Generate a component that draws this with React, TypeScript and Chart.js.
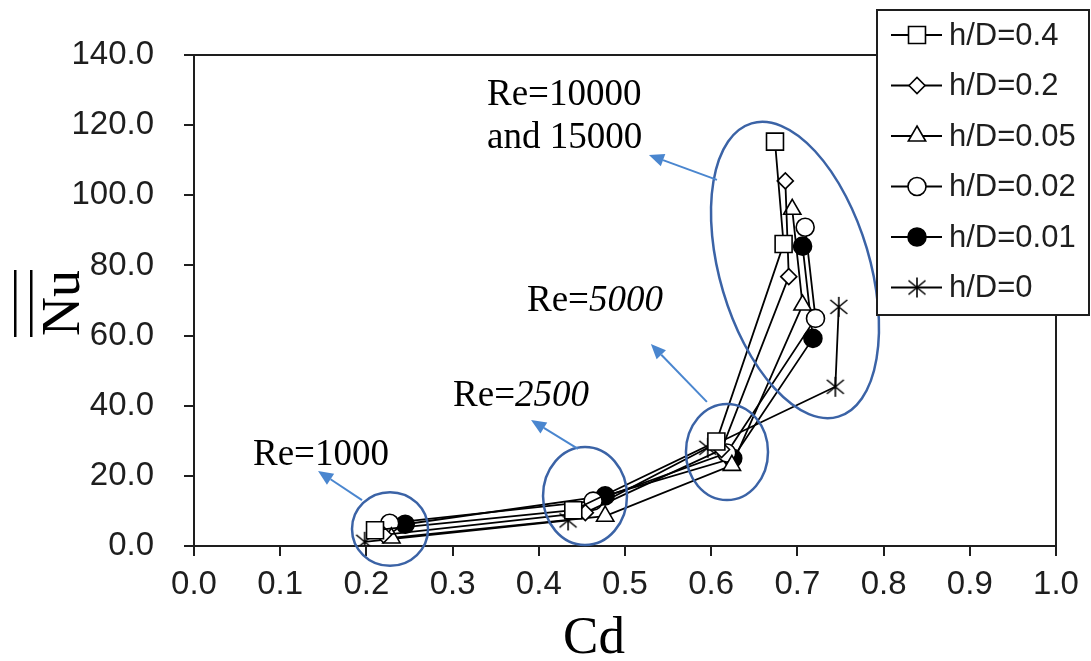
import { useEffect, useRef } from 'react';
import { Chart, registerables } from 'chart.js';
import { drawPoint } from 'chart.js/helpers';

Chart.register(...registerables);

// Each series: Re = 1000, 2500, 5000, 10000, 15000
const seriesLabels = ['h/D=0.4', 'h/D=0.2', 'h/D=0.05', 'h/D=0.02', 'h/D=0.01', 'h/D=0'];

const cdH04 = [0.21, 0.44, 0.606, 0.684, 0.674];
const nuH04 = [4.5, 10.2, 29.8, 86.1, 115.3];

const cdH02 = [0.22, 0.454, 0.612, 0.69, 0.686];
const nuH02 = [3.2, 9.5, 27.5, 76.8, 104.1];

const cdH005 = [0.229, 0.477, 0.624, 0.706, 0.694];
const nuH005 = [2.3, 8.5, 23.0, 68.7, 96.0];

const cdH002 = [0.227, 0.463, 0.618, 0.721, 0.709];
const nuH002 = [6.5, 12.8, 26.5, 64.9, 90.9];

const cdH001 = [0.245, 0.477, 0.625, 0.718, 0.706];
const nuH001 = [6.2, 14.3, 25.0, 59.2, 85.5];

const cdH0 = [0.198, 0.434, 0.596, 0.744, 0.748];
const nuH0 = [1.2, 7.3, 28.0, 45.4, 68.2];

const xTickValues = [0, 0.1, 0.2, 0.3, 0.4, 0.5, 0.6, 0.7, 0.8, 0.9, 1.0];
const yTickValues = [0, 20, 40, 60, 80, 100, 120, 140];

// Callouts in data units (Cd, Nu)
const groupEllipses = [
  { cd: 0.2274, nu: 4.85, rCd: 0.0441, rNu: 10.5, tilt: 0 },
  { cd: 0.4536, nu: 14.26, rCd: 0.0487, rNu: 13.97, tilt: 0 },
  { cd: 0.6183, nu: 26.8, rCd: 0.0476, rNu: 13.7, tilt: 0 },
  { cd: 0.6972, nu: 78.7, rCd: 0.087, rNu: 43.6, tilt: -16.5 },
];
const groupArrows = [
  { fromCd: 0.1949, fromNu: 13.1, toCd: 0.1439, toNu: 21.4 },
  { fromCd: 0.4455, fromNu: 27.7, toCd: 0.391, toNu: 35.9 },
  { fromCd: 0.595, fromNu: 41.1, toCd: 0.53, toNu: 57.6 },
  { fromCd: 0.6067, fromNu: 104.4, toCd: 0.5278, toNu: 111.5 },
];
const groupNotes = [
  { cd: 0.0684, nu: 23.1, parts: [{ t: 'Re=1000', i: false }] },
  { cd: 0.3005, nu: 39.9, parts: [{ t: 'Re=', i: false }, { t: '2500', i: true }] },
  { cd: 0.3863, nu: 67.0, parts: [{ t: 'Re=', i: false }, { t: '5000', i: true }] },
  { cd: 0.3399, nu: 125.7, parts: [{ t: 'Re=10000', i: false }] },
  { cd: 0.3399, nu: 113.5, parts: [{ t: 'and 15000', i: false }] },
];

const SANS = '"Liberation Sans", Arial, sans-serif';
const SERIF = '"Liberation Serif", "Times New Roman", serif';
const INK = '#1e1e1e';

function makeAsterisk(): HTMLCanvasElement {
  const c = document.createElement('canvas');
  c.width = 22;
  c.height = 22;
  const g = c.getContext('2d')!;
  g.strokeStyle = '#000';
  g.lineWidth = 1.6;
  g.beginPath();
  g.moveTo(11, 1);
  g.lineTo(11, 21);
  g.moveTo(2.5, 4);
  g.lineTo(19.5, 18);
  g.moveTo(19.5, 4);
  g.lineTo(2.5, 18);
  g.stroke();
  return c;
}

function pairs(xs: number[], ys: number[]) {
  return xs.map((x, i) => ({ x, y: ys[i] }));
}

const framePlugin = {
  id: 'frame',
  beforeDatasetsDraw(chart: any) {
    const { ctx, chartArea: a } = chart;
    ctx.save();
    ctx.strokeStyle = INK;
    ctx.lineWidth = 2;
    ctx.beginPath();
    ctx.moveTo(a.left, a.top);
    ctx.lineTo(a.right, a.top);
    ctx.lineTo(a.right, a.bottom);
    ctx.stroke();
    ctx.restore();
  },
};

const calloutPlugin = {
  id: 'callouts',
  afterDatasetsDraw(chart: any) {
    const { ctx } = chart;
    const xs = chart.scales.x;
    const ys = chart.scales.y;
    const px = (v: number) => xs.getPixelForValue(v);
    const py = (v: number) => ys.getPixelForValue(v);
    const sx = xs.getPixelForValue(1) - xs.getPixelForValue(0);
    const sy = ys.getPixelForValue(0) - ys.getPixelForValue(1);

    ctx.save();
    ctx.strokeStyle = '#3b63a6';
    ctx.lineWidth = 2.5;
    for (const e of groupEllipses) {
      ctx.beginPath();
      ctx.ellipse(px(e.cd), py(e.nu), e.rCd * sx, e.rNu * sy, (e.tilt * Math.PI) / 180, 0, Math.PI * 2);
      ctx.stroke();
    }

    ctx.strokeStyle = '#4a86cf';
    ctx.fillStyle = '#4a86cf';
    ctx.lineWidth = 2;
    for (const a of groupArrows) {
      const x0 = px(a.fromCd), y0 = py(a.fromNu);
      const x1 = px(a.toCd), y1 = py(a.toNu);
      const ang = Math.atan2(y1 - y0, x1 - x0);
      const len = 15, half = 6.5;
      const bx = x1 - Math.cos(ang) * len, by = y1 - Math.sin(ang) * len;
      ctx.beginPath();
      ctx.moveTo(x0, y0);
      ctx.lineTo(bx, by);
      ctx.stroke();
      ctx.beginPath();
      ctx.moveTo(x1, y1);
      ctx.lineTo(bx + Math.sin(ang) * half, by - Math.cos(ang) * half);
      ctx.lineTo(bx - Math.sin(ang) * half, by + Math.cos(ang) * half);
      ctx.closePath();
      ctx.fill();
    }

    ctx.fillStyle = '#000';
    ctx.textBaseline = 'alphabetic';
    ctx.textAlign = 'left';
    for (const n of groupNotes) {
      let x = px(n.cd);
      const y = py(n.nu);
      for (const p of n.parts) {
        ctx.font = `${p.i ? 'italic ' : ''}37px ${SERIF}`;
        ctx.fillText(p.t, x, y);
        x += ctx.measureText(p.t).width;
      }
    }
    ctx.restore();
  },
  afterDraw(chart: any) {
    const { ctx, chartArea: a } = chart;
    ctx.save();

    // axis titles
    ctx.fillStyle = '#000';
    ctx.font = `53px ${SERIF}`;
    ctx.textAlign = 'center';
    ctx.textBaseline = 'alphabetic';
    ctx.fillText('Cd', a.left + 400, 653);

    ctx.translate(79, 303);
    ctx.rotate(-Math.PI / 2);
    ctx.font = `54px ${SERIF}`;
    ctx.fillText('Nu', 0, 0);
    ctx.fillRect(-34, -65, 67, 2.5);
    ctx.fillRect(-34, -49, 67, 2.5);
    ctx.setTransform(1, 0, 0, 1, 0, 0);

    // legend box
    const bx = 877, by = 10, bw = 212, bh = 305;
    ctx.fillStyle = '#fff';
    ctx.fillRect(bx, by, bw, bh);
    ctx.strokeStyle = INK;
    ctx.lineWidth = 2;
    ctx.strokeRect(bx, by, bw, bh);

    chart.data.datasets.forEach((ds: any, i: number) => {
      const y = 35 + i * 50.5;
      ctx.strokeStyle = '#000';
      ctx.lineWidth = 1.8;
      ctx.beginPath();
      ctx.moveTo(891, y);
      ctx.lineTo(942, y);
      ctx.stroke();
      ctx.fillStyle = ds.pointBackgroundColor;
      ctx.strokeStyle = ds.pointBorderColor;
      ctx.lineWidth = ds.pointBorderWidth;
      drawPoint(ctx, { pointStyle: ds.pointStyle, radius: ds.pointRadius, rotation: 0, borderWidth: ds.pointBorderWidth } as any, 917, y);
      ctx.fillStyle = INK;
      ctx.font = `31px ${SANS}`;
      ctx.textAlign = 'left';
      ctx.textBaseline = 'middle';
      ctx.fillText(ds.label, 949, y + 1);
    });
    ctx.restore();
  },
};

export default function App() {
  const canvasRef = useRef<HTMLCanvasElement>(null);

  useEffect(() => {
    const star = makeAsterisk();
    const base = {
      showLine: true,
      borderColor: '#000',
      borderWidth: 1.8,
      pointBorderColor: '#000',
      pointBorderWidth: 1.6,
      pointBackgroundColor: '#fff',
    };
    const chart = new Chart(canvasRef.current!, {
      type: 'scatter',
      data: {
        datasets: [
          { ...base, label: seriesLabels[0], data: pairs(cdH04, nuH04), pointStyle: 'rect', pointRadius: 12 },
          { ...base, label: seriesLabels[1], data: pairs(cdH02, nuH02), pointStyle: 'rectRot', pointRadius: 8 },
          { ...base, label: seriesLabels[2], data: pairs(cdH005, nuH005), pointStyle: 'triangle', pointRadius: 10 },
          { ...base, label: seriesLabels[3], data: pairs(cdH002, nuH002), pointStyle: 'circle', pointRadius: 9 },
          { ...base, label: seriesLabels[4], data: pairs(cdH001, nuH001), pointStyle: 'circle', pointRadius: 9, pointBackgroundColor: '#000' },
          { ...base, label: seriesLabels[5], data: pairs(cdH0, nuH0), pointStyle: star as any, pointRadius: 10 },
        ] as any,
      },
      options: {
        responsive: false,
        animation: false,
        events: [],
        layout: { padding: { top: 55, right: 35, left: 0, bottom: 0 } },
        plugins: { legend: { display: false }, tooltip: { enabled: false }, title: { display: false } },
        scales: {
          x: {
            type: 'linear',
            min: 0,
            max: 1,
            afterBuildTicks: (s: any) => {
              s.ticks = xTickValues.map((v) => ({ value: v }));
            },
            afterFit: (s: any) => {
              s.height = 115;
            },
            ticks: {
              callback: (v: any) => Number(v).toFixed(1),
              font: { family: SANS, size: 33 },
              color: INK,
              padding: 9,
              maxRotation: 0,
              autoSkip: false,
            },
            grid: { drawOnChartArea: false, drawTicks: true, tickLength: 10, color: INK, lineWidth: 2 },
            border: { display: true, color: INK, width: 2 },
          },
          y: {
            type: 'linear',
            min: 0,
            max: 140,
            afterBuildTicks: (s: any) => {
              s.ticks = yTickValues.map((v) => ({ value: v }));
            },
            afterFit: (s: any) => {
              s.width = 194;
            },
            ticks: {
              callback: (v: any) => Number(v).toFixed(1),
              font: { family: SANS, size: 33 },
              color: INK,
              padding: 30,
              autoSkip: false,
            },
            grid: { drawOnChartArea: false, drawTicks: true, tickLength: 10, color: INK, lineWidth: 2 },
            border: { display: true, color: INK, width: 2 },
          },
        },
      },
      plugins: [framePlugin, calloutPlugin],
    });
    return () => chart.destroy();
  }, []);

  return (
    <div style={{ position: 'absolute', left: 0, top: 0, width: 1091, height: 661, background: '#fff' }}>
      <canvas ref={canvasRef} width={1091} height={661} />
    </div>
  );
}
